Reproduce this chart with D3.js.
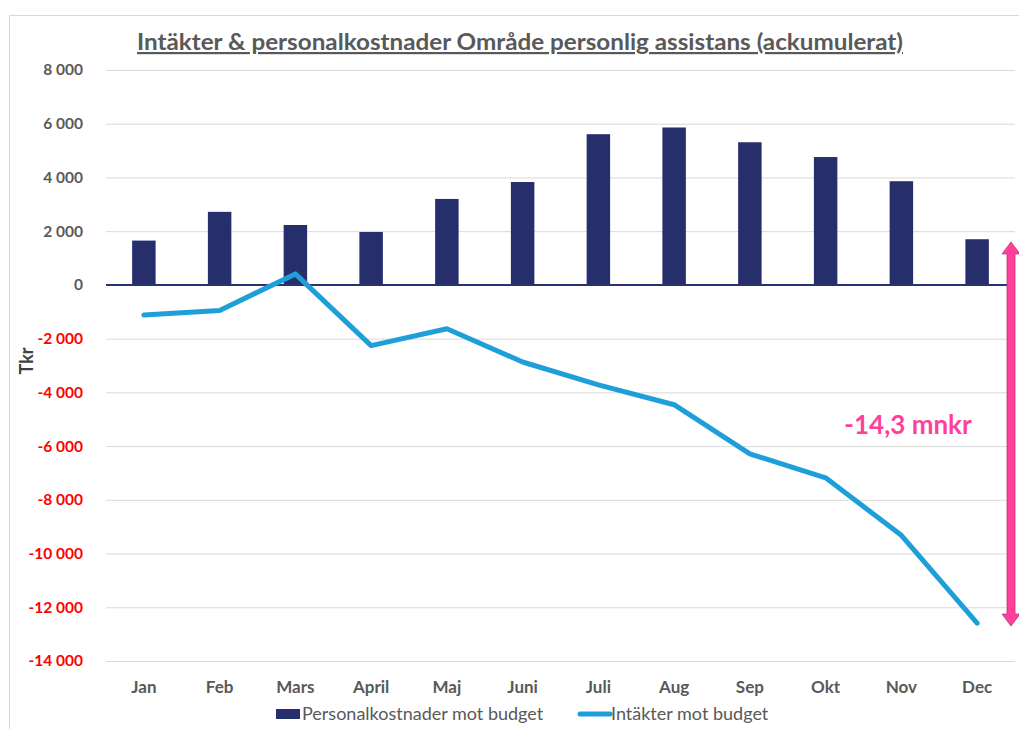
<!DOCTYPE html>
<html>
<head>
<meta charset="utf-8">
<script src="https://cdn.jsdelivr.net/npm/d3@7"></script>
<style>
  body { margin: 0; background: #fff; }
  text { font-family: Lato, "Open Sans", sans-serif; }
</style>
</head>
<body>
<div id="chart"></div>
<script>
var w = 1019;
var h = 729;

// data (Tkr)
var months = ["Jan", "Feb", "Mars", "April", "Maj", "Juni", "Juli", "Aug", "Sep", "Okt", "Nov", "Dec"];
var personal = [1650, 2720, 2230, 1970, 3200, 3830, 5610, 5860, 5310, 4760, 3860, 1700];
var intakter = [-1120, -950, 410, -2260, -1630, -2870, -3720, -4460, -6290, -7180, -9320, -12590];
var yTicks = [8000, 6000, 4000, 2000, 0, -2000, -4000, -6000, -8000, -10000, -12000, -14000];
var seriesNames = ["Personalkostnader mot budget", "Intäkter mot budget"];
var totalLabel = "-14,3 mnkr";

var svg = d3.select("#chart")
    .append("svg")
    .attr("width", w)
    .attr("height", h);

// chart frame
svg.append("rect")
    .attr("x", 9.5).attr("y", 15.5)
    .attr("width", w + 20).attr("height", h + 20)
    .attr("fill", "none")
    .attr("stroke", "#d9d9d9");

var xScale = d3.scaleBand().domain(months).range([106, 1015]),
    yScale = d3.scaleLinear().domain([-14000, 8000]).range([661, 70]);

var locale = d3.formatLocale({ decimal: ",", thousands: "\u00a0", grouping: [3], currency: ["", " kr"], minus: "-" });
var fmt = locale.format(",");

// y axis with gridlines
var yAxis = svg.append("g")
    .attr("transform", "translate(106,0)")
    .call(d3.axisLeft(yScale).tickValues(yTicks).tickFormat(fmt).tickSize(-909).tickPadding(23));
yAxis.select(".domain").remove();
yAxis.selectAll(".tick line").attr("stroke", "#d9d9d9");
yAxis.selectAll(".tick text")
    .style("font-size", "15.5px")
    .style("font-weight", "bold")
    .attr("fill", function(d) { return d < 0 ? "#ff0000" : "#595959"; });

// y axis title
svg.append("text")
    .attr("transform", "translate(33,361) rotate(-90)")
    .attr("text-anchor", "middle")
    .style("font-size", "18px")
    .style("font-weight", "bold")
    .attr("fill", "#404040")
    .text("Tkr");

// bars
var barW = xScale.bandwidth() * 0.31;
svg.selectAll("rect.bar")
    .data(personal)
    .enter().append("rect")
    .attr("class", "bar")
    .attr("x", function(d, i) { return xScale(months[i]) + (xScale.bandwidth() - barW) / 2; })
    .attr("y", function(d) { return yScale(Math.max(0, d)); })
    .attr("width", barW)
    .attr("height", function(d) { return Math.abs(yScale(d) - yScale(0)); })
    .attr("fill", "#262e6c");

// zero line
svg.append("line")
    .attr("x1", 106).attr("x2", 1015)
    .attr("y1", yScale(0)).attr("y2", yScale(0))
    .attr("stroke", "#2b3274")
    .attr("stroke-width", 2);

// line series
var line = d3.line()
    .x(function(d, i) { return xScale(months[i]) + xScale.bandwidth() / 2; })
    .y(function(d) { return yScale(d); });

svg.append("path")
    .datum(intakter)
    .attr("d", line)
    .attr("fill", "none")
    .attr("stroke", "#1e9fda")
    .attr("stroke-width", 5)
    .attr("stroke-linejoin", "round")
    .attr("stroke-linecap", "round");

// x labels
svg.selectAll("text.xlab")
    .data(months)
    .enter().append("text")
    .attr("class", "xlab")
    .attr("x", function(d) { return xScale(d) + xScale.bandwidth() / 2; })
    .attr("y", 693)
    .attr("text-anchor", "middle")
    .style("font-size", "17px")
    .style("font-weight", "bold")
    .attr("fill", "#595959")
    .text(function(d) { return d; });

// title
svg.append("text")
    .attr("x", 520)
    .attr("y", 50)
    .attr("text-anchor", "middle")
    .attr("textLength", 766)
    .attr("lengthAdjust", "spacingAndGlyphs")
    .style("font-size", "22px")
    .style("font-weight", "bold")
    .style("text-decoration", "underline")
    .attr("fill", "#595959")
    .text("Intäkter & personalkostnader Område personlig assistans (ackumulerat)");

// double arrow annotation
var ax = 1011, ay1 = yScale(1600), ay2 = yScale(-12700);
var arrow = d3.path();
arrow.moveTo(ax, ay1);
arrow.lineTo(ax + 9, ay1 + 12);
arrow.lineTo(ax + 4, ay1 + 12);
arrow.lineTo(ax + 4, ay2 - 12);
arrow.lineTo(ax + 9, ay2 - 12);
arrow.lineTo(ax, ay2);
arrow.lineTo(ax - 9, ay2 - 12);
arrow.lineTo(ax - 4, ay2 - 12);
arrow.lineTo(ax - 4, ay1 + 12);
arrow.lineTo(ax - 9, ay1 + 12);
arrow.closePath();
svg.append("path")
    .attr("d", arrow.toString())
    .attr("fill", "#ff3f9b")
    .attr("stroke", "#c2327c")
    .attr("stroke-width", 0.8);

svg.append("text")
    .attr("x", 908)
    .attr("y", 434)
    .attr("text-anchor", "middle")
    .style("font-size", "26px")
    .style("font-weight", "bold")
    .attr("fill", "#ff3f9b")
    .text(totalLabel);

// legend
var legend = svg.append("g");
legend.append("rect")
    .attr("x", 276).attr("y", 709)
    .attr("width", 24).attr("height", 10)
    .attr("fill", "#262e6c");
legend.append("text")
    .attr("x", 302).attr("y", 720)
    .style("font-size", "18px")
    .attr("fill", "#595959")
    .text(seriesNames[0]);
legend.append("line")
    .attr("x1", 580).attr("x2", 610)
    .attr("y1", 714).attr("y2", 714)
    .attr("stroke", "#1e9fda")
    .attr("stroke-width", 5)
    .attr("stroke-linecap", "round");
legend.append("text")
    .attr("x", 611).attr("y", 720)
    .style("font-size", "18px")
    .attr("fill", "#595959")
    .text(seriesNames[1]);
</script>
</body>
</html>
